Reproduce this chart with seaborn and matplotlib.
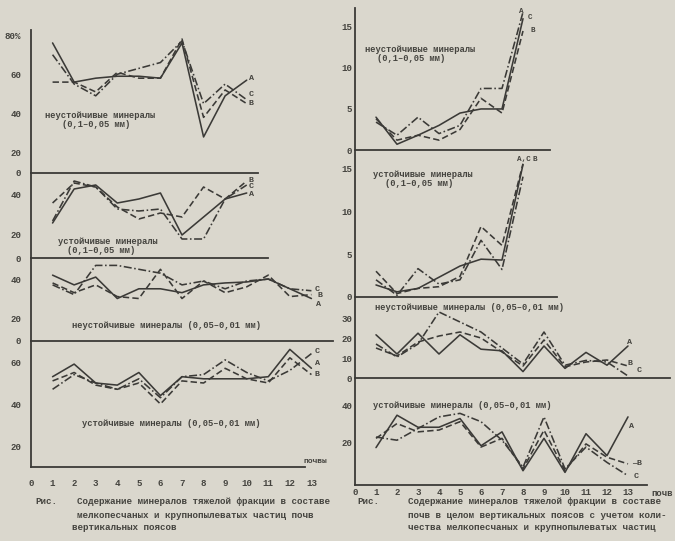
import pandas as pd
import matplotlib.pyplot as plt
import seaborn as sns

# ---- данные ----
SERIES = ['A', 'B', 'C']
X_TICK_LABELS = ['0', '1', '2', '3', '4', '5', '6', '7', '8', '9', '10', '11', '12', '13']

# левый рисунок: % в составе мелкопесчаных и крупнопылеватых частиц
L1_A = [76, 56, 58, 59, 59, 58, 76, 28, 49, 57]
L1_B = [56, 56, 51, 61, 58, 58, 78, 38, 52, 45]
L1_C = [70, 55, 49, 60, 63, 66, 77, 45, 55, 47]

L2_A = [26, 43, 45, 36, 38, 41, 20, 29, 38, 41]
L2_B = [36, 46, 44, 34, 28, 31, 29, 44, 38, 47]
L2_C = [27, 47, 44, 33, 32, 33, 18, 18, 38, 45]

L3_A = [42, 37, 41, 30, 35, 35, 33, 37, 38, 38.5, 40, 35, 30]
L3_B = [38, 33, 37, 31, 30, 45, 30, 39, 33, 36, 42, 31, 32]
L3_C = [37, 32, 47, 47, 45, 43, 37, 39, 35, 39, 40, 35, 34]

L4_A = [53, 59, 50, 49, 55, 44, 53, 52, 52, 52, 53, 66, 57]
L4_B = [51, 55, 49, 47, 50, 40, 51, 50, 57, 52, 50, 62, 54]
L4_C = [47, 54, 50, 47, 52, 43, 53, 54, 61, 55, 51, 56, 64]

# правый рисунок: в почве в целом
R1_A = [4, 0.7, 1.8, 3, 4.5, 5, 5, 16]
R1_B = [3.8, 1.2, 1.8, 1.2, 2.5, 6.3, 4.5, 14.5]
R1_C = [3.4, 1.8, 4, 2, 3, 7.5, 7.5, 16.8]

R2_A = [1.4, 0.6, 1, 2.3, 3.6, 4.4, 4.3, 15.4]
R2_B = [3, 0.4, 1, 1.2, 2.4, 8.2, 6, 15.5]
R2_C = [2, 0.2, 3.3, 1.5, 2, 6.6, 3.2, 14]

R3_A = [21.6, 12, 22.4, 12, 21.6, 14.4, 13.6, 3.2, 16, 4.8, 12.8, 6.4, 16]
R3_B = [15, 11, 18, 21, 23, 20, 13, 6, 19, 5.6, 8, 9, 6]
R3_C = [17, 10.5, 17, 33, 28, 23, 15, 7, 23, 6.4, 8.8, 8, 1]

R4_A = [17, 34.5, 28, 28, 32.7, 18, 25.5, 4.5, 22, 3.6, 24.5, 12.7, 33.6]
R4_B = [22, 30, 25.5, 26.5, 31, 17.3, 22, 5.5, 26.4, 4.5, 19, 11.8, 8.2]
R4_C = [22.7, 21, 27.3, 33.6, 35.5, 31, 21, 6.4, 33.6, 5.5, 17.3, 9, 1.8]

# ---- оформление ----
sns.set_theme(style='white')
plt.rcParams['font.family'] = ['Liberation Mono', 'DejaVu Sans Mono']
plt.rcParams['font.weight'] = 'bold'

PAPER = '#dad7cd'
INK = '#3b3a37'
TXT = '#45443f'
DASHES = {'A': '', 'B': (4, 2), 'C': (5, 1.6, 1, 1.6)}
W, H = 675, 541

fig = plt.figure(figsize=(6.75, 5.41), dpi=100, facecolor=PAPER)


def axes_px(x0, y0, x1, y1):
    ax = fig.add_axes([x0 / W, 1 - y1 / H, (x1 - x0) / W, (y1 - y0) / H])
    ax.set_facecolor('none')
    return ax


def draw(ax, a, b, c, xlim, ylim, yticks, ylabels, span, pad_y, bottom=False, pad_x=2):
    n = len(a)
    df = pd.DataFrame({
        'x': list(range(1, n + 1)) * 3,
        'v': a + b + c,
        's': ['A'] * n + ['B'] * n + ['C'] * n,
    })
    sns.lineplot(data=df, x='x', y='v', style='s', dashes=DASHES, color=INK,
                 linewidth=1.15, legend=False, ax=ax)
    ax.set_xlim(*xlim)
    ax.set_ylim(*ylim)
    ax.set_xlabel('')
    ax.set_ylabel('')
    for s in ['top', 'right']:
        ax.spines[s].set_visible(False)
    for s in ['left', 'bottom']:
        ax.spines[s].set_color(INK)
        ax.spines[s].set_linewidth(1.3)
    ax.spines['bottom'].set_bounds(0, span)
    ax.set_yticks(yticks)
    ax.set_yticklabels(ylabels)
    if bottom:
        ax.set_xticks(range(0, 14))
        ax.set_xticklabels(X_TICK_LABELS)
    else:
        ax.set_xticks(range(1, n + 1))
        ax.set_xticklabels([])
    ax.tick_params(axis='both', direction='in', length=3, width=1, color=INK,
                   labelcolor=TXT, labelsize=6.6)
    ax.tick_params(axis='y', pad=pad_y)
    ax.tick_params(axis='x', pad=pad_x)


def lbl(ax, x, y, s, size=6.3):
    ax.text(x, y, s, fontsize=size, color=TXT, ha='left', va='center')


# ---- левый рисунок ----
l1 = axes_px(31, 30, 333, 173)
draw(l1, L1_A, L1_B, L1_C, (0, 14), (9.6, 82.6), [9.6, 20, 40, 60, 80],
     ['0', '20', '40', '60', '80%'], 10.5, 7)
lbl(l1, 0.65, 39, 'неустойчивые минералы')
lbl(l1, 1.45, 34.5, '(0,1–0,05 мм)')
for t, yy in zip(['A', 'C', 'B'], [58, 49.5, 45]):
    lbl(l1, 10.1, yy, t, 6)

l2 = axes_px(31, 173, 333, 258)
draw(l2, L2_A, L2_B, L2_C, (0, 14), (8.5, 51), [8.5, 20, 40],
     ['0', '20', '40'], 11, 7)
lbl(l2, 1.25, 16.5, 'устойчивые минералы')
lbl(l2, 1.67, 12.3, '(0,1–0,05 мм)')
for t, yy in zip(['B', 'C', 'A'], [47.5, 44, 40]):
    lbl(l2, 10.1, yy, t, 6)

l3 = axes_px(31, 258, 333, 341)
draw(l3, L3_A, L3_B, L3_C, (0, 14), (8.2, 50.8), [8.2, 20, 40],
     ['0', '20', '40'], 14, 7)
lbl(l3, 1.9, 16.4, 'неустойчивые минералы (0,05–0,01 мм)')
for t, xx, yy in zip(['C', 'B', 'A'], [13.15, 13.3, 13.2], [34.5, 31.5, 27]):
    lbl(l3, xx, yy, t, 6)

l4 = axes_px(31, 341, 333, 467)
draw(l4, L4_A, L4_B, L4_C, (0, 14), (10, 70), [20, 40, 60],
     ['20', '40', '60'], 12.7, 7, bottom=True, pad_x=9)
lbl(l4, 2.36, 30.5, 'устойчивые минералы (0,05–0,01 мм)')
lbl(l4, 12.65, 12.5, 'почвы', 5.8)
for t, yy in zip(['C', 'A', 'B'], [65, 59.5, 54]):
    lbl(l4, 13.15, yy, t, 6)

# ---- правый рисунок ----
r1 = axes_px(355, 8, 670, 150)
draw(r1, R1_A, R1_B, R1_C, (0, 15), (0, 17.3), [0, 5, 10, 15],
     ['0', '5', '10', '15'], 9.3, 2)
lbl(r1, 0.48, 12.2, 'неустойчивые минералы')
lbl(r1, 1.05, 11.2, '(0,1–0,05 мм)')
lbl(r1, 7.8, 16.9, 'A', 5.5)
lbl(r1, 8.25, 16.2, 'C', 5.5)
lbl(r1, 8.35, 14.5, 'B', 5.5)

r2 = axes_px(355, 150, 670, 297)
draw(r2, R2_A, R2_B, R2_C, (0, 15), (0, 17.1), [0, 5, 10, 15],
     ['0', '5', '10', '15'], 9.6, 2)
lbl(r2, 0.86, 14.2, 'устойчивые минералы')
lbl(r2, 1.43, 13.2, '(0,1–0,05 мм)')
lbl(r2, 7.7, 16.0, 'A,C', 5.5)
lbl(r2, 8.45, 16.0, 'B', 5.5)

r3 = axes_px(355, 297, 670, 378)
draw(r3, R3_A, R3_B, R3_C, (0, 15), (0, 40.5), [0, 10, 20, 30],
     ['0', '10', '20', '30'], 15, 2)
lbl(r3, 0.95, 35.5, 'неустойчивые минералы (0,05–0,01 мм)')
lbl(r3, 12.95, 17.8, 'A', 6)
lbl(r3, 13.0, 7.4, 'B', 6)
lbl(r3, 13.4, 3.5, 'C', 6)

r4 = axes_px(355, 378, 670, 485)
draw(r4, R4_A, R4_B, R4_C, (0, 15), (-3.2, 54.6), [20, 40],
     ['20', '40'], 13.9, 2, bottom=True, pad_x=2)
lbl(r4, 0.86, 39.5, 'устойчивые минералы (0,05–0,01 мм)')
lbl(r4, 13.05, 28.5, 'A', 6)
lbl(r4, 13.2, 8.2, '—B', 6)
lbl(r4, 13.25, 1.2, 'C', 6)
fig.text(651 / W, 1 - 493 / H, 'почв', fontsize=6.4, color=TXT, ha='left', va='center')

# ---- подписи к рисункам ----
CAP_L = ['Содержание минералов тяжелой фракции в составе',
         'мелкопесчаных и крупнопылеватых частиц почв',
         'вертикальных поясов']
CAP_R = ['Содержание минералов тяжелой фракции в составе',
         'почв в целом вертикальных поясов с учетом коли-',
         'чества мелкопесчаных и крупнопылеватых частиц']

fig.text(35 / W, 1 - 502 / H, 'Рис.', fontsize=6.7, color=TXT, va='center')
fig.text(357 / W, 1 - 502 / H, 'Рис.', fontsize=6.7, color=TXT, va='center')
for i, (tl, tr) in enumerate(zip(CAP_L, CAP_R)):
    yy = 1 - (502 + 13 * i) / H
    xl = 77 if i < 2 else 72
    fig.text(xl / W, yy, tl, fontsize=6.7, color=TXT, va='center')
    fig.text(408 / W, yy, tr, fontsize=6.7, color=TXT, va='center')

plt.savefig('out.png', dpi=100, facecolor=PAPER)
